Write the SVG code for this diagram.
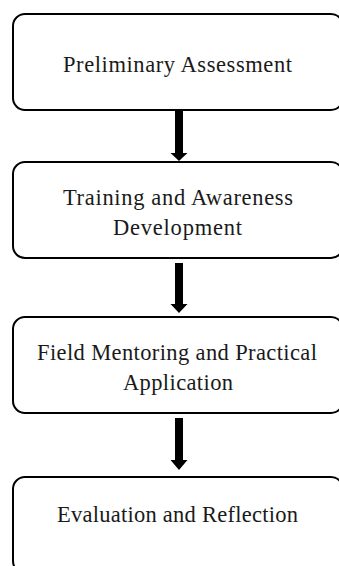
<svg xmlns="http://www.w3.org/2000/svg" width="339" height="566" viewBox="0 0 339 566">
<style>
.box{fill:#fff;stroke:#000;stroke-width:2}
.lbl{font-family:"Liberation Serif","Times New Roman",serif;font-size:22.5px;fill:#1a1a1a;text-anchor:middle}
.arr{fill:#000}
</style>
<rect width="339" height="566" fill="#fff"/>
<g id="n1"><rect class="box" x="13" y="14" width="330" height="96" rx="12"/><text class="lbl" x="177.5" y="72" textLength="229" lengthAdjust="spacing">Preliminary Assessment</text></g>
<g id="n2"><rect class="box" x="13" y="162" width="330" height="96" rx="12"/><text class="lbl" x="178" y="205" textLength="230" lengthAdjust="spacing">Training and Awareness</text><text class="lbl" x="177.5" y="235" textLength="129" lengthAdjust="spacing">Development</text></g>
<g id="n3"><rect class="box" x="13" y="317" width="330" height="96" rx="12"/><text class="lbl" x="177" y="360" textLength="280" lengthAdjust="spacing">Field Mentoring and Practical</text><text class="lbl" x="178" y="390" textLength="110" lengthAdjust="spacing">Application</text></g>
<g id="n4"><rect class="box" x="13" y="477" width="330" height="96" rx="12"/><text class="lbl" x="177.5" y="522" textLength="241" lengthAdjust="spacing">Evaluation and Reflection</text></g>
<g id="connectors">
<polygon class="arr" points="175,111 183,111 183,153 187.5,153 179,161 170.5,153 175,153"/>
<polygon class="arr" points="175,263 183,263 183,304 187.5,304 179,313 170.5,304 175,304"/>
<polygon class="arr" points="175,418 183,418 183,460 187.5,460 179,470 170.5,460 175,460"/>
</g>
</svg>
